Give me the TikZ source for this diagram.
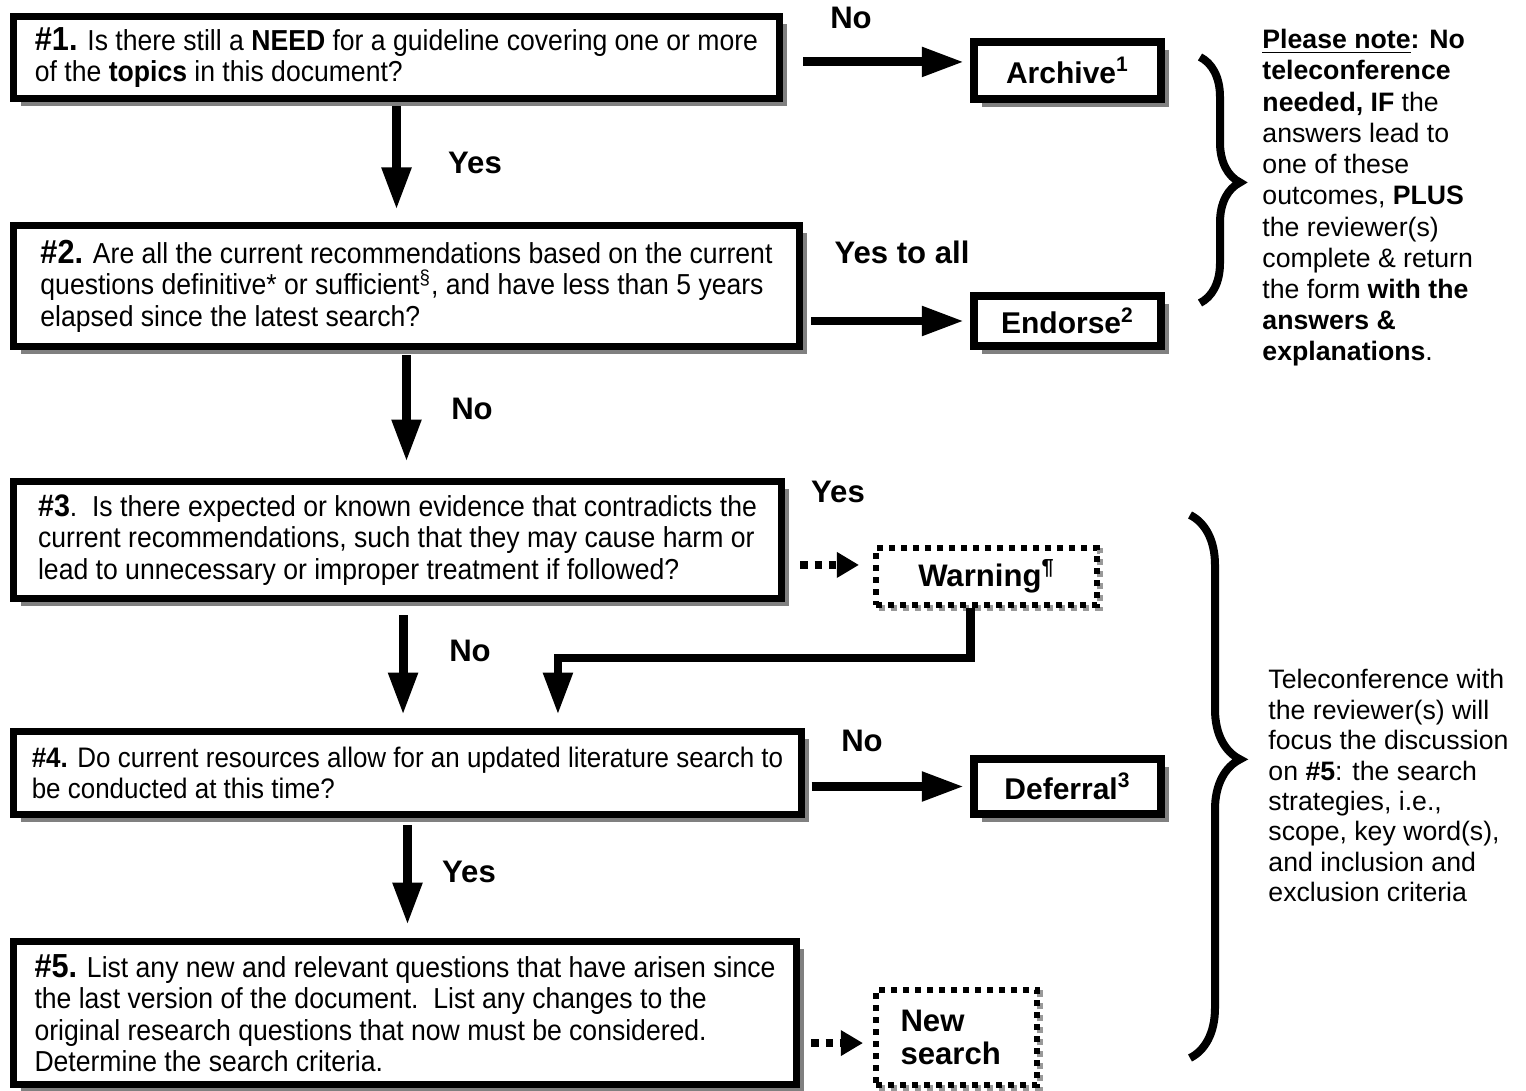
\documentclass[tikz,border=0pt]{standalone}
\usepackage{fontspec}
\setmainfont{Liberation Sans}
\newfontfamily\narrowsf[FakeStretch=0.92]{Liberation Sans}
\usetikzlibrary{arrows.meta,shadows,decorations.pathreplacing}
\newcommand{\pxu}{0.45pt}
\newcommand{\qnum}[1]{{\fontsize{15}{14.2}\selectfont\textbf{#1}}}
\tikzset{
  question/.style={
    draw,
    line width=3pt,
    fill=white,
    align=left,
    inner sep=0pt,
    font=\narrowsf\fontsize{13}{14.2}\selectfont,
    drop shadow={shadow xshift=3.3pt, shadow yshift=-3.3pt, fill=gray, opacity=1}
  },
  outcome/.style={
    draw,
    line width=3.6pt,
    fill=white,
    align=center,
    inner sep=0pt,
    font=\bfseries\fontsize{13.5}{15.6}\selectfont,
    drop shadow={shadow xshift=3.6pt, shadow yshift=-3.6pt, fill=gray, opacity=1}
  },
  pending/.style={
    draw,
    line width=2.7pt,
    dash pattern=on 2.7pt off 2.7pt,
    fill=white,
    align=left,
    inner sep=0pt,
    font=\bfseries\fontsize{14}{15}\selectfont,
    drop shadow={shadow xshift=1.5pt, shadow yshift=-1.5pt, fill=white, draw=gray!80, opacity=1}
  },
  flow/.style={-{Triangle[length=19pt,width=12.5pt]}, line width=4pt},
  maybe/.style={-{Triangle[length=10pt,width=11pt]}, line width=3.4pt, dash pattern=on 3.4pt off 3pt},
  answer/.style={font=\bfseries\fontsize{14}{16}\selectfont, inner sep=0pt},
  remark/.style={align=left, anchor=north west, inner sep=0pt, font=\fontsize{12}{14.05}\selectfont},
  curly/.style={decorate, line width=3.6pt}
}

\begin{document}
\begin{tikzpicture}[x=0.45pt,y=-0.45pt]
\useasboundingbox[fill=white] (0,0) rectangle (1526,1091);

% questions
\node[question, minimum width=766*\pxu, minimum height=82*\pxu] (q1) at (396.5,57.5)
  {\qnum{\#1.} Is there still a \textbf{NEED} for a guideline covering one or more\\
   of the \textbf{topics} in this document?};
\node[question, minimum width=786*\pxu, minimum height=121*\pxu] (q2) at (406.5,286)
  {\qnum{\#2.} Are all the current recommendations based on the current\\
   questions definitive* or sufficient\textsuperscript{\S}, and have less than 5 years\\
   elapsed since the latest search?};
\node[question, minimum width=768*\pxu, minimum height=117*\pxu] (q3) at (397.5,540)
  {{\fontsize{14}{14.2}\selectfont\textbf{\#3}}.\ \ Is there expected or known evidence that contradicts the\\
   current recommendations, such that they may cause harm or\\
   lead to unnecessary or improper treatment if followed?};
\node[question, minimum width=788*\pxu, minimum height=83*\pxu, font=\narrowsf\fontsize{12.7}{14.2}\selectfont] (q4) at (407.5,773)
  {\textbf{\#4.} Do current resources allow for an updated literature search to\\
   be conducted at this time?};
\node[question, minimum width=783*\pxu, minimum height=143*\pxu] (q5) at (405,1013)
  {\qnum{\#5.} List any new and relevant questions that have arisen since\\
   the last version of the document.\ \ List any changes to the\\
   original research questions that now must be considered.\\
   Determine the search criteria.};

% outcomes
\node[outcome, minimum width=187*\pxu, minimum height=57*\pxu] (archive) at (1067.5,70.5) {Archive\textsuperscript{1}};
\node[outcome, minimum width=187*\pxu, minimum height=50*\pxu] (endorse) at (1067.5,321) {Endorse\textsuperscript{2}};
\node[outcome, minimum width=187*\pxu, minimum height=55*\pxu] (deferral) at (1067.5,786.5) {Deferral\textsuperscript{3}};
\node[pending, minimum width=221*\pxu, minimum height=57*\pxu] (warning) at (986.5,576.5) {Warning\textsuperscript{\P}};
\node[pending, minimum width=161*\pxu, minimum height=95*\pxu, text width=112*\pxu] (newsearch) at (956.5,1037.5) {New\\search};

% answers
\node[answer] (a1) at (851,18) {No};
\node[answer] (a2) at (475,163) {Yes};
\node[answer] (a3) at (902,252) {Yes to all};
\node[answer] (a4) at (472,409) {No};
\node[answer] (a5) at (838,492) {Yes};
\node[answer] (a6) at (470,651) {No};
\node[answer] (a7) at (862,741) {No};
\node[answer] (a8) at (469,872) {Yes};

% down the left
\draw[flow, shorten <=2pt, shorten >=5.6pt] (q1.south) -- (q1.south |- q2.north);
\draw[flow, shorten <=2.5pt, shorten >=7.4pt] (q2.south) -- (q2.south |- q3.north);
\draw[flow, shorten <=6pt, shorten >=6pt] ([xshift=2.5pt]q3.south) -- ([xshift=2.5pt]q3.south |- q4.north);
\draw[flow, shorten <=3.4pt, shorten >=6pt] (q4.south) -- (q4.south |- q5.north);

% across to the outcomes
\draw[flow, shorten <=9.2pt, shorten >=2.7pt] ([yshift=-2pt]q1.east) -- ([yshift=-2pt]q1.east -| archive.west);
\draw[flow, shorten <=3.8pt, shorten >=2.7pt] (q2.east |- endorse.west) -- (endorse.west);
\draw[flow, shorten <=3pt, shorten >=2.7pt] (q4.east |- deferral.west) -- (deferral.west);
\draw[maybe, shorten <=7pt, shorten >=6.3pt] ([yshift=5.2pt]warning.west -| q3.east) -- ([yshift=5.2pt]warning.west);
\draw[maybe, shorten <=5.2pt, shorten >=4.5pt] ([yshift=-2.5pt]newsearch.west -| q5.east) -- ([yshift=-2.5pt]newsearch.west);
\draw[flow, shorten >=6pt] ([xshift=-7.4pt]warning.south) -- ++(0,50) -| ([xshift=67.7pt]q4.north);

% braces and notes
\draw[curly, decoration={brace, amplitude=18pt, aspect=0.51}] (1200,57) -- (1200,303);
\draw[curly, decoration={brace, amplitude=22.5pt, aspect=0.45}] (1190,515) -- (1190,1058);

\node[remark] (note) at (1262,29)
  {\underline{\textbf{Please note}}\textbf{:} \textbf{No}\\
   \textbf{teleconference}\\
   \textbf{needed, IF} the\\
   answers lead to\\
   one of these\\
   outcomes, \textbf{PLUS}\\
   the reviewer(s)\\
   complete \& return\\
   the form \textbf{with the}\\
   \textbf{answers \&}\\
   \textbf{explanations}.};
\node[remark, font=\fontsize{12}{13.7}\selectfont] (telecon) at (1268,669)
  {Teleconference with\\
   the reviewer(s) will\\
   focus the discussion\\
   on \textbf{\#5}: the search\\
   strategies, i.e.,\\
   scope, key word(s),\\
   and inclusion and\\
   exclusion criteria};
\end{tikzpicture}
\end{document}
